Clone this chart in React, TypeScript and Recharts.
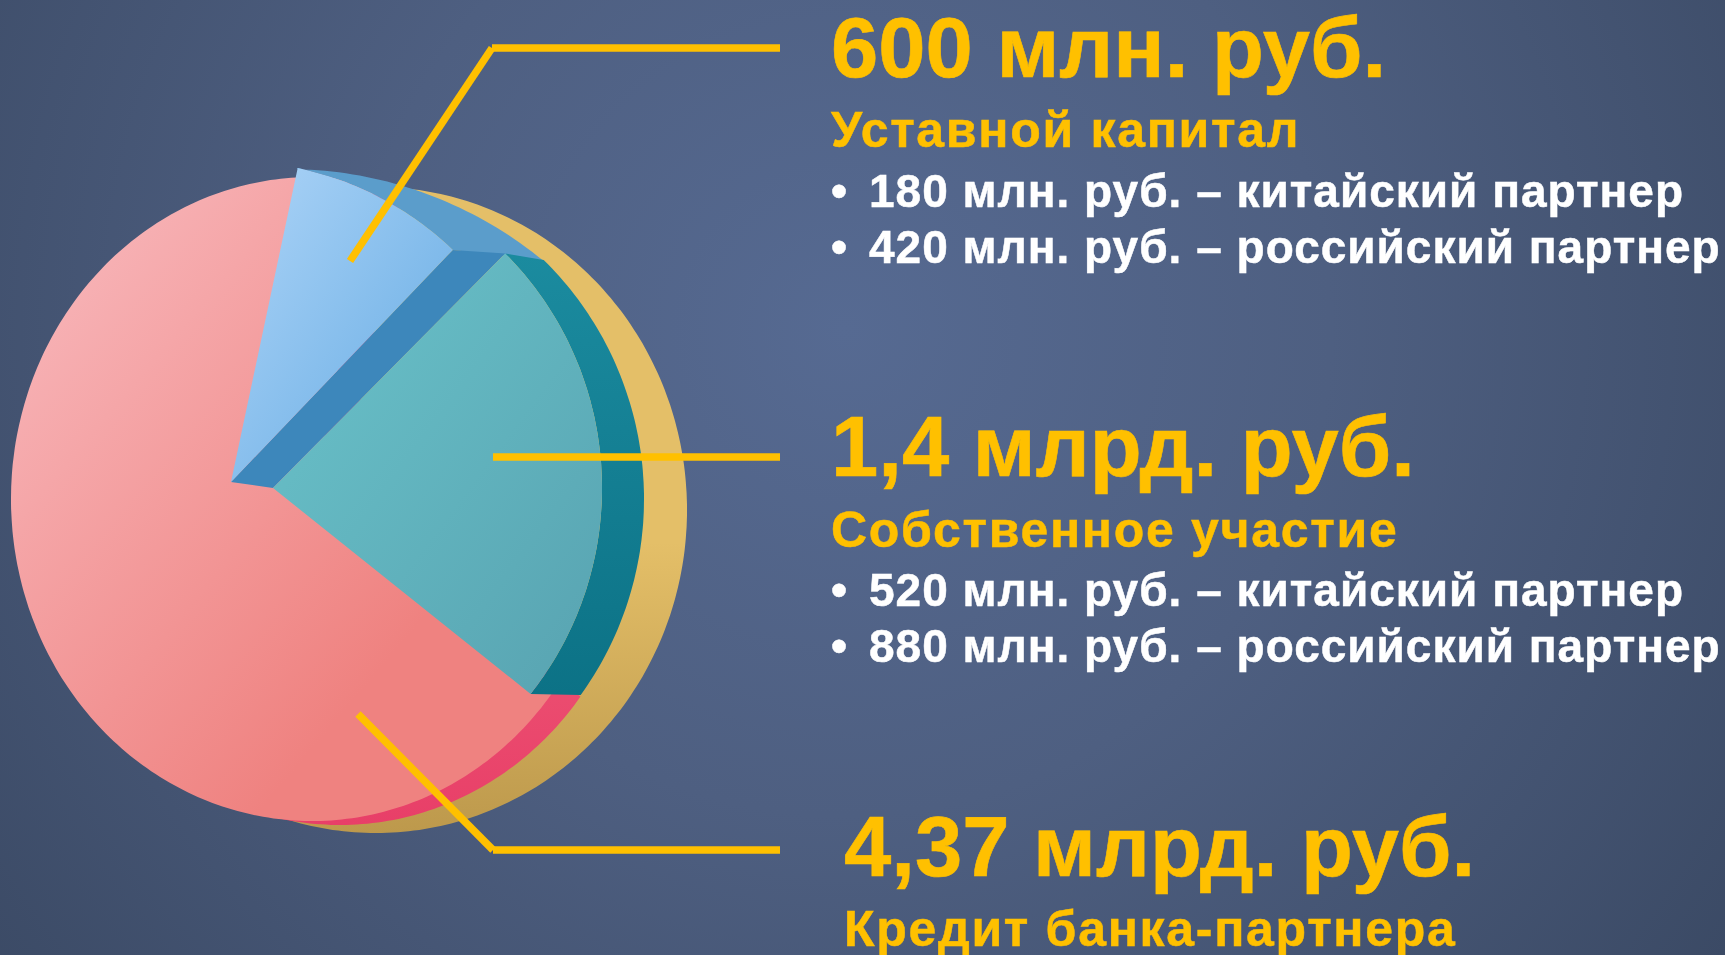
import { Pie, PieChart } from 'recharts'

// доли секторов, как они нарисованы на картинке (%)
const SLICE_NAMES = ['Уставной капитал', 'Собственное участие', 'Кредит банка-партнера']
const SLICE_SHARES = [8.8, 23.55, 67.65]

const AMOUNT_LABELS = ['600 млн. руб.', '1,4 млрд. руб.', '4,37 млрд. руб.']
const SOURCE_LABELS = ['Уставной капитал', 'Собственное участие', 'Кредит банка-партнера']
const PARTNER_LINES = [
  ['180 млн. руб. – китайский партнер', '420 млн. руб. – российский партнер'],
  ['520 млн. руб. – китайский партнер', '880 млн. руб. – российский партнер'],
  [],
]

const sliceData = SLICE_NAMES.map((slice, i) => ({ slice, share: SLICE_SHARES[i] }))

const W = 1725
const H = 955
const START = 78
const YELLOW = '#ffc000'
const FONT = '"Liberation Sans", Arial, sans-serif'

interface Oval {
  cx: number
  cy: number
  rx: number
  ry: number
}

const pt = (o: Oval, deg: number): [number, number] => {
  const a = (deg * Math.PI) / 180
  return [o.cx + o.rx * Math.cos(a), o.cy - o.ry * Math.sin(a)]
}

const arc = (o: Oval, from: number, to: number): [number, number][] => {
  const n = Math.max(1, Math.ceil(Math.abs(to - from)))
  return Array.from({ length: n + 1 }, (_, i) => pt(o, from + ((to - from) * i) / n))
}

const toPath = (pts: [number, number][]) =>
  'M' + pts.map((p) => `${p[0].toFixed(1)},${p[1].toFixed(1)}`).join('L') + 'Z'

// плоская грань сектора; extra поправляет начальный угол
const face = (name: string, o: Oval, fill: string, extra = 0) => (props: any) => {
  if (props.slice !== name) return <g />
  const pts = [[o.cx, o.cy] as [number, number], ...arc(o, props.startAngle + extra, props.endAngle)]
  return <path d={toPath(pts)} fill={fill} stroke="none" />
}

// боковая стенка между дугой грани и дугой обода
const wall =
  (name: string, near: Oval, far: Oval, fill: string, nearStart = 0, farStart = 0, farEnd = 0) =>
  (props: any) => {
    if (props.slice !== name) return <g />
    const pts = [
      ...arc(near, props.startAngle + nearStart, props.endAngle),
      ...arc(far, props.endAngle + farEnd, props.startAngle + farStart),
    ]
    return <path d={toPath(pts)} fill={fill} stroke="none" />
  }

// радиальная стенка вдоль края сектора
const sideWall = (name: string, near: Oval, far: Oval, fill: string, farShift = 0) => (props: any) => {
  if (props.slice !== name) return <g />
  const a = props.endAngle
  const pts = [[near.cx, near.cy] as [number, number], pt(near, a), pt(far, a + farShift), [far.cx, far.cy] as [number, number]]
  return <path d={toPath(pts)} fill={fill} stroke="none" />
}

const GOLD: Oval = { cx: 376, cy: 510, rx: 311, ry: 323 }
const RED: Oval = { cx: 340, cy: 503, rx: 301, ry: 322 }
const PINK: Oval = { cx: 312, cy: 499, rx: 301, ry: 322 }
const BLUE: Oval = { cx: 231, cy: 482, rx: 321, ry: 321 }
const BLUE_RIM: Oval = { cx: 287, cy: 573, rx: 404, ry: 404 }
const TEAL: Oval = { cx: 273, cy: 488, rx: 329, ry: 331 }
const TEAL_RIM: Oval = { cx: 309, cy: 499, rx: 335, ry: 335 }

const LAYERS = [
  { id: 'red', shape: face(SLICE_NAMES[2], RED, 'url(#redWall)', 1.5) },
  { id: 'pink', shape: face(SLICE_NAMES[2], PINK, 'url(#pinkFace)', 3) },
  { id: 'blueRim', shape: wall(SLICE_NAMES[0], BLUE, BLUE_RIM, '#5b9dcb', 0, 10.6, 4.4) },
  { id: 'blueSide', shape: sideWall(SLICE_NAMES[0], BLUE, TEAL, '#3d87bb', -1.2) },
  { id: 'tealRim', shape: wall(SLICE_NAMES[1], TEAL, TEAL_RIM, 'url(#tealWall)', -1.2, -0.8, 2.66) },
  { id: 'tealFace', shape: face(SLICE_NAMES[1], TEAL, 'url(#tealFace)', -1.2) },
  { id: 'blueFace', shape: face(SLICE_NAMES[0], BLUE, 'url(#blueFace)') },
]

const LEADERS = [
  [350, 261, 492, 48],
  [492, 48, 780, 48],
  [493, 457, 780, 457],
  [358, 714, 493, 850],
  [493, 850, 780, 850],
]

const BLOCKS = [
  { x: 831, head: 77, sub: 147, lines: [206.5, 263] },
  { x: 831, head: 476, sub: 547, lines: [605.5, 662] },
  { x: 844, head: 876, sub: 946, lines: [] as number[] },
]

export default function App() {
  return (
    <div
      style={{
        position: 'fixed',
        left: 0,
        top: 0,
        width: W,
        height: H,
        background: 'radial-gradient(circle at 845px 330px, #566a92 0%, #4e5f81 45%, #3b4a65 100%)',
      }}
    >
      <PieChart width={W} height={H} margin={{ top: 0, right: 0, bottom: 0, left: 0 }}>
        <defs>
          <linearGradient id="goldDisk" x1="0" y1="0" x2="0" y2="1">
            <stop offset="0.55" stopColor="#e4bf68" />
            <stop offset="1" stopColor="#bd994c" />
          </linearGradient>
          <linearGradient id="redWall" x1="0" y1="0" x2="0" y2="1">
            <stop offset="0.6" stopColor="#ee5876" />
            <stop offset="1" stopColor="#e83f68" />
          </linearGradient>
          <linearGradient id="pinkFace" x1="0" y1="0" x2="1" y2="1">
            <stop offset="0.05" stopColor="#f8b8bc" />
            <stop offset="0.72" stopColor="#ef8280" />
          </linearGradient>
          <linearGradient id="blueFace" x1="0" y1="0" x2="1" y2="1">
            <stop offset="0" stopColor="#add4f7" />
            <stop offset="0.7" stopColor="#7ab7e9" />
          </linearGradient>
          <linearGradient id="tealFace" x1="0" y1="0" x2="1" y2="1">
            <stop offset="0" stopColor="#6ac3ca" />
            <stop offset="1" stopColor="#58a3b1" />
          </linearGradient>
          <linearGradient id="tealWall" x1="0" y1="0" x2="0" y2="1">
            <stop offset="0" stopColor="#1b8b9f" />
            <stop offset="1" stopColor="#0c7286" />
          </linearGradient>
        </defs>

        <Pie
          data={[{ slice: 'disk', share: 100 }]}
          dataKey="share"
          startAngle={90}
          endAngle={-270}
          stroke="none"
          isAnimationActive={false}
          shape={face('disk', GOLD, 'url(#goldDisk)')}
        />
        {LAYERS.map((layer) => (
          <Pie
            key={layer.id}
            data={sliceData}
            dataKey="share"
            startAngle={START}
            endAngle={START - 360}
            stroke="none"
            isAnimationActive={false}
            shape={layer.shape}
          />
        ))}
      </PieChart>

      {/* выноски и подписи поверх диаграммы */}
      <svg width={W} height={H} style={{ position: 'absolute', left: 0, top: 0 }}>
        {LEADERS.map(([x1, y1, x2, y2], i) => (
          <line key={i} x1={x1} y1={y1} x2={x2} y2={y2} stroke={YELLOW} strokeWidth={7.5} />
        ))}

        {BLOCKS.map((b, i) => (
          <g key={i} fontFamily={FONT} fontWeight="bold">
            <text x={b.x} y={b.head} fontSize={85} fill={YELLOW} stroke={YELLOW} strokeWidth={0.6}>
              {AMOUNT_LABELS[i]}
            </text>
            <text x={b.x} y={b.sub} fontSize={50} letterSpacing={1.7} fill={YELLOW} stroke={YELLOW} strokeWidth={0.5}>
              {SOURCE_LABELS[i]}
            </text>
            {b.lines.map((y, j) => (
              <g key={j} fontSize={46} fill="#ffffff" stroke="#ffffff" strokeWidth={0.5}>
                <text x={b.x} y={y}>•</text>
                <text x={869} y={y} letterSpacing={1}>
                  {PARTNER_LINES[i][j]}
                </text>
              </g>
            ))}
          </g>
        ))}
      </svg>
    </div>
  )
}
